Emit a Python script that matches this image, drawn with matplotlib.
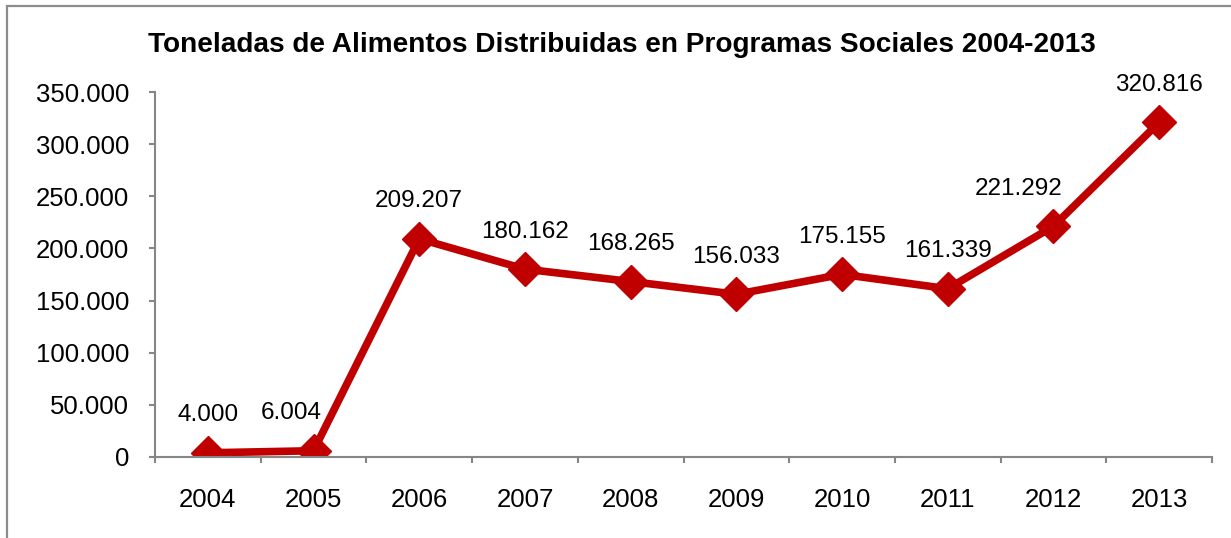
import matplotlib.pyplot as plt
from matplotlib.patches import Rectangle
from matplotlib.ticker import FuncFormatter, FixedLocator

years = ["2004", "2005", "2006", "2007", "2008", "2009", "2010", "2011", "2012", "2013"]
toneladas = [4000, 6004, 209207, 180162, 168265, 156033, 175155, 161339, 221292, 320816]
titulo = "Toneladas de Alimentos Distribuidas en Programas Sociales 2004-2013"

def miles(v, pos=None):
    return f"{v:,.0f}".replace(",", ".")

plt.rcParams['font.family'] = ['Liberation Sans', 'DejaVu Sans']

fig = plt.figure(figsize=(12.31, 5.38), dpi=100)
ax = fig.add_axes([155/1231, 1 - 457/538, (1212 - 155)/1231, (457 - 92)/538])

# gray chart border (left and top visible, rest cut off)
fig.patches.append(Rectangle((7/1231, -0.1), 1.2, 1 - 6/538 + 0.1, transform=fig.transFigure,
                             fill=False, edgecolor="#8c8c8c", linewidth=1.6))

x = list(range(len(years)))
rojo = "#c00000"
ax.plot(x, toneladas, color=rojo, linewidth=5.5, marker="D", markersize=17,
        markerfacecolor=rojo, markeredgecolor=rojo, solid_joinstyle="round",
        solid_capstyle="round")

# label nudges in pixels (horizontal)
dx = {1: -22, 8: -35}
for i, v in enumerate(toneladas):
    ax.annotate(miles(v), (x[i], v), xytext=(dx.get(i, 0) * 0.72, 27),
                textcoords="offset points", ha="center", va="center", fontsize=17.5)

ax.set_xlim(-0.5, len(years) - 0.5)
ax.set_ylim(0, 350000)
ax.set_yticks(range(0, 350001, 50000))
ax.yaxis.set_major_formatter(FuncFormatter(miles))
ax.set_xticks(x)
ax.set_xticklabels(years)
ax.xaxis.set_minor_locator(FixedLocator([i - 0.5 for i in range(len(years) + 1)]))

for s in ["top", "right"]:
    ax.spines[s].set_visible(False)
for s in ["left", "bottom"]:
    ax.spines[s].set_color("#868686")
    ax.spines[s].set_linewidth(1.5)

ax.tick_params(axis="y", length=4.5, width=1.5, color="#868686", pad=14, labelsize=18.5)
ax.tick_params(axis="x", which="major", length=0, pad=22, labelsize=18.5)
ax.tick_params(axis="x", which="minor", length=4.5, width=1.5, color="#868686")

fig.text(622/1231, 1 - 45/538, titulo, ha="center", va="center", fontsize=20.2, fontweight="bold")

fig.savefig("out.png", dpi=100)
